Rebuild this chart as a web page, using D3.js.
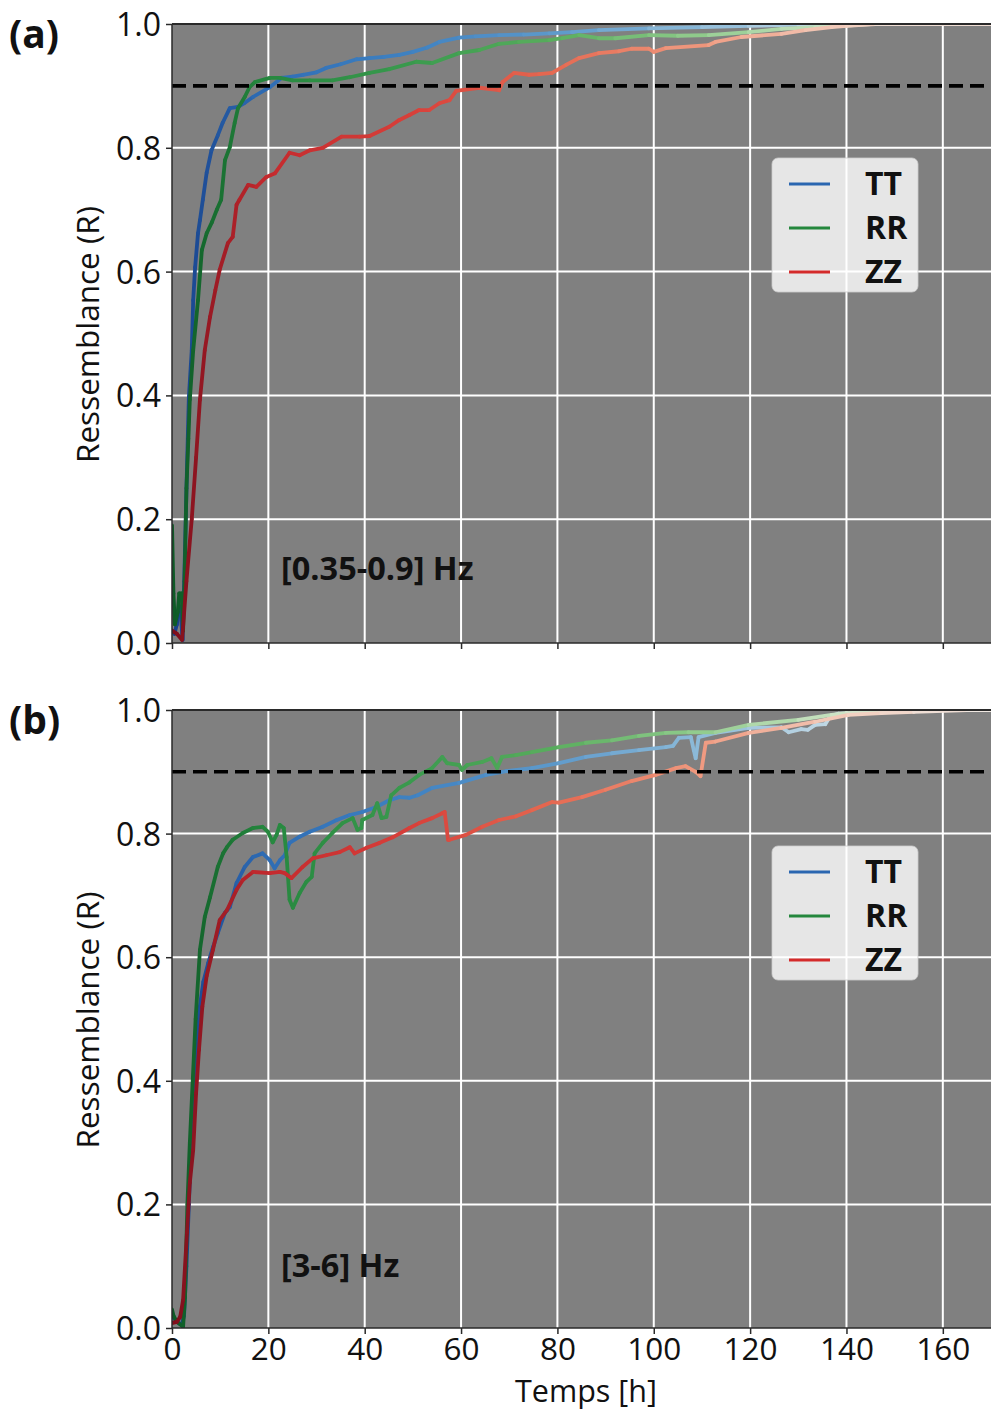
<!DOCTYPE html>
<html><head><meta charset="utf-8">
<script src="https://cdn.jsdelivr.net/npm/d3@7"></script>
<style>body{margin:0;background:#fff}svg{display:block}</style>
</head><body>
<svg id="c" width="991" height="1411"></svg>
<script>
// ---------- data ----------
const seriesNames = ["TT", "RR", "ZZ"];
const xTicks = [0, 20, 40, 60, 80, 100, 120, 140, 160];
const yTicks = [0.0, 0.2, 0.4, 0.6, 0.8, 1.0];
const threshold = 0.9;
const bandLabels = ["[0.35-0.9] Hz", "[3-6] Hz"];
const panelLabels = ["(a)", "(b)"];

const aTT = [[0,0.02],[0.5,0.015],[1,0.03],[1.5,0.06],[1.8,0.05],[2.2,0.005],[2.7,0.15],[3.1,0.28],[3.5,0.397],[4.1,0.473],[4.4,0.554],[4.8,0.607],[5.4,0.662],[5.8,0.683],[6.4,0.716],[7.2,0.76],[8.2,0.796],[9.5,0.82],[10.5,0.84],[12,0.864],[13.7,0.866],[15,0.872],[16.8,0.882],[20.3,0.898],[22.8,0.913],[25,0.915],[27.2,0.918],[30,0.922],[32,0.929],[35,0.935],[38.3,0.943],[41,0.945],[44,0.947],[47.2,0.95],[50,0.955],[53,0.962],[55.5,0.971],[59.6,0.978],[63,0.98],[67.9,0.982],[73,0.983],[78.3,0.985],[83,0.987],[88.6,0.99],[99,0.993],[110,0.995],[119.7,0.997],[130,0.999],[140,1.0],[170,1.0]];
const aRR = [[0,0.19],[0.3,0.08],[0.6,0.03],[1.2,0.05],[1.5,0.08],[2,0.08],[2.3,0.02],[2.6,0.1],[3.0,0.25],[3.4,0.33],[3.7,0.393],[4.4,0.473],[5.4,0.554],[6.2,0.635],[7.2,0.662],[8.3,0.68],[9.3,0.7],[10.2,0.716],[11,0.78],[12,0.801],[13,0.84],[13.7,0.864],[15.1,0.882],[16.1,0.898],[17.2,0.906],[20.3,0.913],[22.4,0.913],[25,0.909],[28.6,0.909],[33.3,0.909],[36.9,0.914],[41,0.921],[45.1,0.927],[50.7,0.939],[54,0.937],[59.6,0.953],[63.8,0.958],[67.9,0.968],[72,0.971],[78.3,0.974],[81,0.977],[84.5,0.982],[88.6,0.977],[92,0.977],[99,0.982],[105,0.981],[111.4,0.982],[119.7,0.987],[126.5,0.992],[133.5,0.995],[139,0.997],[145,1.0],[170,1.0]];
const aZZ = [[0,0.02],[1,0.015],[2.1,0.005],[3,0.1],[4.1,0.2],[5,0.3],[5.8,0.393],[6.8,0.473],[7.9,0.527],[9,0.57],[9.9,0.603],[11.6,0.646],[12.6,0.656],[13.4,0.708],[14,0.716],[15.8,0.74],[17.5,0.737],[19.6,0.753],[21.4,0.759],[24.4,0.792],[26.5,0.788],[28.6,0.796],[31.3,0.8],[35.2,0.818],[38.9,0.818],[41,0.819],[45.1,0.834],[47.2,0.845],[49.3,0.853],[51.3,0.861],[53.4,0.861],[55.5,0.872],[57.6,0.877],[59,0.892],[63.8,0.897],[67.9,0.893],[68.6,0.906],[71,0.921],[74.1,0.918],[76.2,0.919],[78.9,0.921],[81.8,0.934],[84.5,0.945],[88.6,0.953],[92.8,0.956],[95.4,0.96],[99,0.96],[100,0.955],[102.5,0.961],[111.4,0.966],[112.8,0.971],[118.2,0.979],[126.5,0.984],[131.5,0.99],[136.9,0.995],[140,0.997],[146,1.0],[170,1.0]];

const bTT = [[0,0.02],[1,0.01],[2,0.005],[2.5,0.02],[3,0.1],[3.5,0.2],[4,0.3],[4.6,0.4],[5.4,0.5],[6.5,0.56],[7.5,0.59],[8.5,0.616],[9.5,0.639],[11,0.672],[12,0.681],[13.4,0.72],[15.1,0.746],[16.8,0.762],[18.8,0.768],[20.3,0.757],[21.3,0.744],[22.4,0.757],[23.4,0.765],[24.4,0.785],[26.5,0.795],[28.6,0.803],[31.3,0.811],[34.2,0.822],[36.9,0.83],[39.5,0.835],[42.4,0.843],[45.1,0.854],[47.2,0.859],[49.3,0.858],[51,0.862],[54,0.874],[59.6,0.882],[65.2,0.895],[69.4,0.901],[74.7,0.906],[80.3,0.914],[85.9,0.924],[91.3,0.93],[96.9,0.935],[102.5,0.94],[104,0.942],[105.2,0.955],[107.7,0.956],[108.3,0.935],[108.7,0.922],[109.3,0.956],[112.8,0.963],[119.7,0.971],[126.5,0.972],[128,0.964],[130.6,0.969],[132,0.968],[133.5,0.976],[135.6,0.977],[136.6,0.99],[138.3,0.994],[143.9,0.995],[152,0.998],[160,1.0],[170,1.0]];
const bRR = [[0,0.03],[0.3,0.02],[1,0.01],[2.3,0.002],[2.7,0.05],[3.2,0.2],[3.7,0.3],[4.3,0.4],[4.9,0.5],[5.8,0.612],[6.8,0.665],[7.9,0.697],[9.5,0.746],[10.6,0.768],[11.4,0.778],[12.6,0.79],[14.7,0.801],[16.8,0.809],[18.8,0.811],[19.9,0.803],[20.9,0.786],[21.7,0.798],[22.4,0.814],[23.2,0.809],[23.8,0.762],[24.4,0.693],[25.1,0.68],[26.5,0.704],[27.9,0.722],[29,0.73],[29.6,0.768],[31.3,0.785],[33.3,0.801],[35.4,0.817],[37.5,0.825],[38.5,0.806],[39.3,0.809],[39.5,0.822],[41.6,0.83],[42.6,0.849],[43.5,0.825],[44.5,0.827],[45.5,0.862],[47.2,0.874],[49.3,0.883],[51.3,0.895],[54,0.906],[56.1,0.924],[57.1,0.914],[59.6,0.911],[60.2,0.903],[61.3,0.911],[64.4,0.916],[66.3,0.922],[67.5,0.906],[68.5,0.924],[71.4,0.927],[74.7,0.932],[80.3,0.94],[85.9,0.947],[91.3,0.951],[96.9,0.958],[102.5,0.963],[107.2,0.964],[112.8,0.964],[119.7,0.976],[130,0.984],[136.9,0.992],[140,0.995],[147,0.997],[160,1.0],[170,1.0]];
const bZZ = [[0,0.008],[1,0.01],[1.7,0.018],[2.3,0.045],[3.1,0.154],[3.7,0.235],[4.4,0.288],[5,0.38],[5.6,0.45],[6.3,0.52],[7.2,0.57],[8.5,0.612],[9.9,0.66],[11.4,0.676],[13.4,0.709],[14.7,0.725],[16.8,0.738],[20.3,0.736],[22.4,0.738],[23.4,0.736],[24.8,0.728],[27.1,0.746],[29.2,0.76],[32,0.765],[34.8,0.77],[36.9,0.778],[37.9,0.768],[40.4,0.777],[43.1,0.785],[45.8,0.794],[49.3,0.809],[51.3,0.817],[54,0.825],[56.1,0.833],[56.6,0.835],[57.3,0.79],[57.6,0.79],[61,0.798],[64.4,0.811],[67.9,0.822],[71.4,0.828],[74.7,0.838],[78.9,0.851],[80.3,0.85],[85.1,0.859],[90,0.871],[95.4,0.885],[100.4,0.895],[104.6,0.906],[106.6,0.909],[108.7,0.9],[109.7,0.893],[110.8,0.947],[112.8,0.949],[119.7,0.963],[126.5,0.971],[133.5,0.981],[140.4,0.992],[147.2,0.995],[154,0.997],[165,1.0],[170,1.0]];

// ---------- styles ----------
const colorStopsT = [0, 20, 50, 80, 110, 140, 170];
const colorStops = {
  TT: ["#16408a","#2f6db5","#3f82c2","#5e9acb","#8ebbd9","#c8dce6","#eeeeee"],
  RR: ["#0d5a26","#26883f","#3a9a4e","#5aae5e","#92cc8e","#cfe4c8","#eeeeee"],
  ZZ: ["#7d0e1c","#c42a2e","#d8403a","#e56a52","#ef9a80","#f2cdbd","#efe9e4"]
};
const legendColors = {TT:"#2a66b0", RR:"#24873d", ZZ:"#d42a2a"};
const FONT = "'Open Sans', 'DejaVu Sans', sans-serif";

const panels = [
  {data:[aTT,aRR,aZZ], top:24, bottom:643, legendY:158, xLabels:false, bandBase:580},
  {data:[bTT,bRR,bZZ], top:710, bottom:1328, legendY:846, xLabels:true, bandBase:1277}
];

const svg = d3.select("#c");
const left = 172, right = 991;
const x = d3.scaleLinear().domain([0,170]).range([left,right]);

function colorFor(name){
  return d3.scaleLinear().domain(colorStopsT).range(colorStops[name]).interpolate(d3.interpolateRgb);
}

panels.forEach((p,pi)=>{
  const y = d3.scaleLinear().domain([0,1]).range([p.bottom,p.top]);
  const g = svg.append("g");
  const clipId = "clip"+pi;
  svg.append("clipPath").attr("id",clipId).append("rect")
    .attr("x",left).attr("y",p.top).attr("width",right-left).attr("height",p.bottom-p.top);

  g.append("rect").attr("x",left).attr("y",p.top).attr("width",right-left).attr("height",p.bottom-p.top).attr("fill","#808080");

  // grid
  g.append("g").selectAll("line").data(xTicks.filter(d=>d>0)).join("line")
    .attr("x1",d=>x(d)).attr("x2",d=>x(d)).attr("y1",p.top).attr("y2",p.bottom)
    .attr("stroke","#fff").attr("stroke-width",2);
  g.append("g").selectAll("line").data(yTicks.filter(d=>d>0&&d<1)).join("line")
    .attr("x1",left).attr("x2",right).attr("y1",d=>y(d)).attr("y2",d=>y(d))
    .attr("stroke","#fff").attr("stroke-width",2);

  // series as gradient-coloured segments
  const lines = g.append("g").attr("clip-path",`url(#${clipId})`);
  p.data.forEach((ser,si)=>{
    const name = seriesNames[si];
    const cf = colorFor(name);
    const segs = d3.pairs(ser);
    lines.append("g").selectAll("line").data(segs).join("line")
      .attr("x1",d=>x(d[0][0])).attr("y1",d=>y(d[0][1]))
      .attr("x2",d=>x(d[1][0])).attr("y2",d=>y(d[1][1]))
      .attr("stroke",d=>cf((d[0][0]+d[1][0])/2))
      .attr("stroke-width",3.8).attr("stroke-linecap","round");
  });

  // threshold
  g.append("line").attr("clip-path",`url(#${clipId})`)
    .attr("x1",left).attr("x2",right).attr("y1",y(threshold)).attr("y2",y(threshold))
    .attr("stroke","#000").attr("stroke-width",3.6).attr("stroke-dasharray","14,7");

  // spines
  g.append("line").attr("x1",left).attr("x2",right).attr("y1",p.top).attr("y2",p.top).attr("stroke","#2a2a2a").attr("stroke-width",2);
  g.append("line").attr("x1",left).attr("x2",right).attr("y1",p.bottom).attr("y2",p.bottom).attr("stroke","#2a2a2a").attr("stroke-width",1.5);
  g.append("line").attr("x1",left).attr("x2",left).attr("y1",p.top).attr("y2",p.bottom).attr("stroke","#2a2a2a").attr("stroke-width",1.5);

  // axes
  const ya = g.append("g").attr("transform",`translate(${left},0)`)
    .call(d3.axisLeft(y).tickValues(yTicks).tickFormat(d3.format(".1f")).tickSize(6).tickPadding(5));
  ya.select(".domain").remove();
  ya.selectAll("line").attr("stroke","#2a2a2a").attr("stroke-width",1.5);
  ya.selectAll("text").attr("font-family",FONT).attr("font-size",32).attr("fill","#111").attr("dy","0.36em");

  const xa = g.append("g").attr("transform",`translate(0,${p.bottom})`)
    .call(d3.axisBottom(x).tickValues(xTicks).tickFormat(p.xLabels?d3.format("d"):()=>"").tickSize(6).tickPadding(4));
  xa.select(".domain").remove();
  xa.selectAll("line").attr("stroke","#2a2a2a").attr("stroke-width",1.5);
  xa.selectAll("text").attr("font-family",FONT).attr("font-size",31.5).attr("fill","#111");

  // y label
  g.append("text").attr("transform",`translate(99,${(p.top+p.bottom)/2+1}) rotate(-90)`)
    .attr("text-anchor","middle").attr("font-family",FONT).attr("font-size",31.5).attr("fill","#111")
    .text("Ressemblance (R)");

  // panel label
  g.append("text").attr("x",9).attr("y",p.top+24).attr("font-family",FONT).attr("font-weight","bold")
    .attr("font-size",39).attr("fill","#111").text(panelLabels[pi]);

  // band label
  g.append("text").attr("x",281).attr("y",p.bandBase).attr("font-family",FONT).attr("font-weight","bold")
    .attr("font-size",32.5).attr("fill","#111").text(bandLabels[pi]);

  // legend
  const lg = g.append("g").attr("transform",`translate(772,${p.legendY})`);
  lg.append("rect").attr("width",146).attr("height",134).attr("rx",6)
    .attr("fill","#fff").attr("fill-opacity",0.8).attr("stroke","#cccccc").attr("stroke-opacity",0.8);
  seriesNames.forEach((n,i)=>{
    const yy = 26 + i*44;
    lg.append("line").attr("x1",17).attr("x2",58).attr("y1",yy).attr("y2",yy)
      .attr("stroke",legendColors[n]).attr("stroke-width",3.2);
    lg.append("text").attr("x",93).attr("y",yy+11).attr("font-family",FONT).attr("font-weight","bold")
      .attr("font-size",32).attr("fill","#111").text(n);
  });

  if(p.xLabels){
    g.append("text").attr("x",586).attr("y",1402).attr("text-anchor","middle")
      .attr("font-family",FONT).attr("font-size",30.5).attr("fill","#111").text("Temps [h]");
  }
});
</script>
</body></html>
